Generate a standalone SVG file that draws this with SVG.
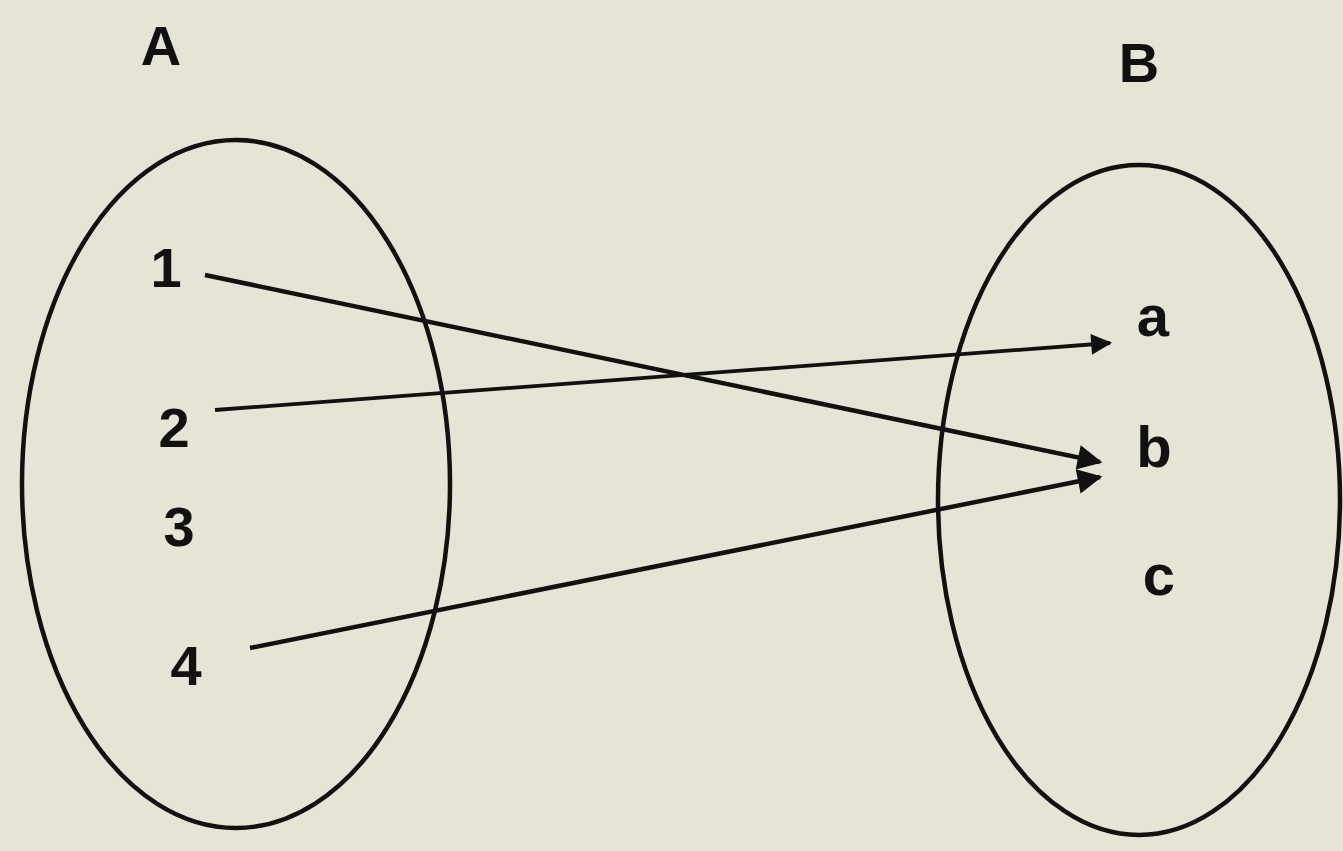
<svg xmlns="http://www.w3.org/2000/svg" width="1343" height="851" viewBox="0 0 1343 851">
<style>
.lbl{font-family:"Liberation Sans",Arial,sans-serif;font-weight:bold;fill:#111;text-anchor:middle}
.set{fill:none;stroke:#111;stroke-width:4.5}
.arr{fill:none;stroke:#111;stroke-width:4.5;marker-end:url(#ah)}
</style>
<defs>
<marker id="ah" viewBox="0 0 10 10" refX="9" refY="5" markerWidth="8" markerHeight="5.5" markerUnits="strokeWidth" orient="auto">
<path d="M0,0 L10,5 L0,10 Z" fill="#111"/>
</marker>
</defs>
<rect width="1343" height="851" fill="#e6e4d5"/>
<g id="setA">
<ellipse class="set" cx="236" cy="484" rx="214" ry="344"/>
<text class="lbl" x="161" y="65" font-size="56">A</text>
</g>
<g id="setB">
<ellipse class="set" cx="1139" cy="500" rx="201" ry="335"/>
<text class="lbl" x="1139" y="82" font-size="56">B</text>
</g>
<g id="n1"><text class="lbl" x="166" y="287" font-size="56">1</text></g>
<g id="n2"><text class="lbl" x="174" y="447" font-size="56">2</text></g>
<g id="n3"><text class="lbl" x="179" y="546" font-size="56">3</text></g>
<g id="n4"><text class="lbl" x="186" y="685" font-size="56">4</text></g>
<g id="na"><text class="lbl" x="1153" y="336" font-size="58">a</text></g>
<g id="nb"><text class="lbl" x="1154" y="467" font-size="58">b</text></g>
<g id="nc"><text class="lbl" x="1159" y="595" font-size="58">c</text></g>
<g id="connectors">
<line class="arr" x1="205" y1="275" x2="1100" y2="462"/>
<line class="arr" x1="215" y1="410" x2="1110" y2="343" style="stroke-width:3.8"/>
<line class="arr" x1="250" y1="648" x2="1100" y2="477"/>
</g>
</svg>
